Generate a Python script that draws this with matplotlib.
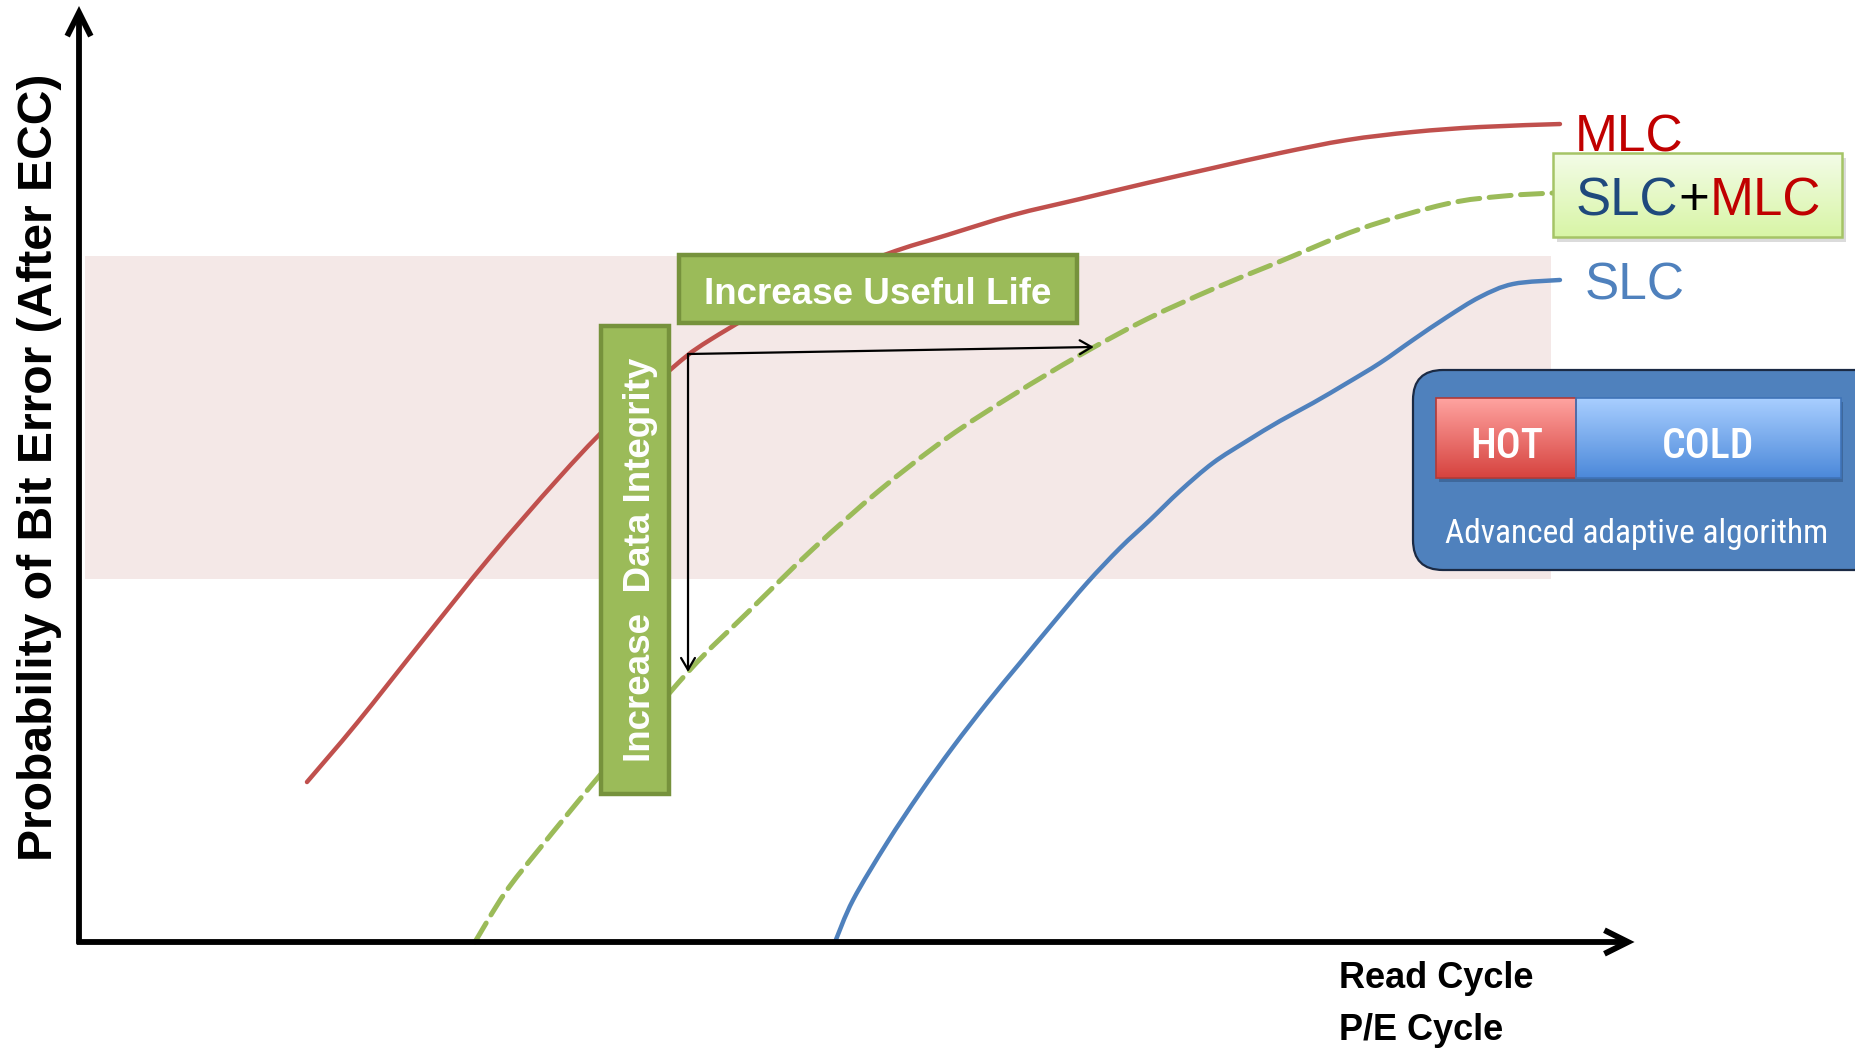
import numpy as np
import matplotlib
matplotlib.use("Agg")
import matplotlib.pyplot as plt
import matplotlib.colors as mcolors
from matplotlib import font_manager as fm
from matplotlib.patches import Rectangle, FancyBboxPatch, PathPatch
from matplotlib.path import Path

# ---------------------------------------------------------------------------
# Data: probability of bit error (after ECC) vs. read / P/E cycles, in
# arbitrary units (x: 0-100 cycles, y: 0-100 error probability)
# ---------------------------------------------------------------------------
mlc_cycles = [14.67, 17.89, 22.14, 26.45, 30.76, 33.98, 38.03, 40.60, 46.40,
              51.99, 55.86, 60.10, 64.41, 68.73, 72.97, 77.28, 81.60, 85.84,
              90.15, 95.30]
mlc_error = [17.09, 23.40, 32.26, 41.13, 49.36, 55.02, 61.11, 64.32, 69.76,
             73.50, 75.53, 77.67, 79.38, 81.09, 82.69, 84.29, 85.68, 86.54,
             87.07, 87.39]

hybrid_cycles = [25.48, 27.41, 29.67, 33.53, 39.19, 42.99, 47.23, 51.54, 55.86,
                 60.10, 64.41, 68.73, 72.97, 76.90, 82.43, 87.97, 91.70, 94.85]
hybrid_error = [0.0, 5.24, 10.04, 17.84, 28.85, 35.15, 41.99, 48.29, 53.85,
                58.44, 62.71, 66.56, 69.76, 72.44, 76.18, 78.85, 79.70, 80.02]

slc_cycles = [48.65, 49.81, 51.99, 54.12, 56.24, 58.43, 60.55, 62.68, 64.86,
              66.99, 68.92, 70.85, 72.97, 75.16, 77.28, 79.41, 81.60, 83.72,
              85.84, 88.03, 90.15, 92.28, 95.30]
slc_error = [0.0, 4.49, 10.58, 15.92, 20.83, 25.53, 29.81, 34.08, 38.35,
             42.09, 45.09, 48.18, 51.18, 53.53, 55.66, 57.59, 59.72, 61.86,
             64.32, 66.77, 68.91, 70.30, 70.73]

# acceptable error window
band_low, band_high = 38.78, 73.29
band_start, band_end = 0.39, 94.72

# improvement arrows (cycles, error)
gain_origin = (39.19, 62.82)
life_gain_end = (65.30, 63.57)
integrity_gain_end = (39.19, 28.85)

y_label = "Probability of Bit Error (After ECC)"
x_labels = ["Read Cycle", "P/E Cycle"]

# ---------------------------------------------------------------------------
W, H = 1855, 1051
fig = plt.figure(figsize=(W / 100, H / 100), dpi=100)
fig.patch.set_facecolor("white")

# data axes: origin at canvas pixel (79, 942); 15.54 px per x unit, 9.36 px per y unit
ox, oy, sx, sy = 79, 942, 15.54, 9.36
ax = fig.add_axes([0, 0, 1, 1])
ax.set_xlim(-ox / sx, (W - ox) / sx)
ax.set_ylim((oy - H) / sy, oy / sy)
ax.axis("off")

RED, GREEN, BLUE = "#C0504D", "#9BBB59", "#4F81BD"


def smooth_path(xs, ys):
    """Cubic Bezier path through the points (Catmull-Rom tangents)."""
    p = np.column_stack([xs, ys]).astype(float)
    ext = np.vstack([p[0], p, p[-1]])
    verts = [p[0]]
    codes = [Path.MOVETO]
    for i in range(len(p) - 1):
        a, b, c, d = ext[i], ext[i + 1], ext[i + 2], ext[i + 3]
        verts += [b + (c - a) / 6.0, c - (d - b) / 6.0, c]
        codes += [Path.CURVE4] * 3
    return Path(verts, codes)


def draw_curve(xs, ys, color, **kw):
    ax.add_patch(PathPatch(smooth_path(xs, ys), facecolor="none",
                           edgecolor=color, capstyle="round",
                           joinstyle="round", zorder=3, **kw))


ax.add_patch(Rectangle((band_start, band_low), band_end - band_start,
                       band_high - band_low, facecolor="#F4E8E7",
                       edgecolor="none", zorder=0))

draw_curve(mlc_cycles, mlc_error, RED, lw=3.2)
draw_curve(hybrid_cycles, hybrid_error, GREEN, lw=3.6,
           linestyle=(0, (4.4, 1.9)))
draw_curve(slc_cycles, slc_error, BLUE, lw=3.2)

# coordinate axes drawn as arrows
axis_arrow = dict(arrowstyle="->,head_length=17,head_width=8.5", lw=4.2,
                  color="black", shrinkA=0, shrinkB=0, mutation_scale=1,
                  joinstyle="miter", capstyle="butt")
ax.annotate("", xy=(100.1, 0), xytext=(-0.15, 0), arrowprops=axis_arrow, zorder=6)
ax.annotate("", xy=(0, 100), xytext=(0, -0.2), arrowprops=axis_arrow, zorder=6)

# improvement arrows: from the MLC curve across / down to the hybrid curve
thin_arrow = dict(arrowstyle="->,head_length=8.5,head_width=5", lw=1.6,
                  color="black", shrinkA=0, shrinkB=0, mutation_scale=1)
ax.annotate("", xy=life_gain_end, xytext=gain_origin, arrowprops=thin_arrow,
            zorder=7)
ax.annotate("", xy=integrity_gain_end, xytext=gain_origin,
            arrowprops=thin_arrow, zorder=7)

# ---------------------------------------------------------------------------
# Decorations, laid out in canvas pixels
# ---------------------------------------------------------------------------
deco = fig.add_axes([0, 0, 1, 1])
deco.axis("off")
deco.patch.set_alpha(0)

available = {f.name for f in fm.fontManager.ttflist}
SANS = "Liberation Sans" if "Liberation Sans" in available else "DejaVu Sans"
narrow = next((n for n in ["Liberation Sans Narrow", "Arial Narrow",
                           "Roboto Condensed", "Open Sans Condensed"]
               if n in available), None)
NARROW = narrow if narrow else SANS
nscale = 1.0 if narrow else 0.82


def gradient_box(x0, y0, x1, y1, top, bottom, z):
    t = np.linspace(0, 1, 64)[:, None]
    c0 = np.array(mcolors.to_rgb(top))
    c1 = np.array(mcolors.to_rgb(bottom))
    img = (c0 * (1 - t) + c1 * t)[:, None, :]
    deco.imshow(img, extent=(x0, x1, y1, y0), origin="upper", aspect="auto",
                interpolation="bilinear", zorder=z)


# axis titles
deco.text(52, 467, y_label, rotation=90, rotation_mode="anchor", ha="center",
          va="baseline", fontsize=34.6, fontweight="bold", family=SANS, zorder=10)
deco.text(1339, 988, x_labels[0], ha="left", va="baseline", fontsize=26,
          fontweight="bold", family=SANS, zorder=10)
deco.text(1339, 1040, x_labels[1], ha="left", va="baseline", fontsize=26,
          fontweight="bold", family=SANS, zorder=10)

# "Increase Useful Life" label
deco.add_patch(Rectangle((679, 255), 398, 68, facecolor=GREEN,
                         edgecolor="#76923C", lw=3.2, zorder=5))
deco.text(878, 304, "Increase Useful Life", ha="center", va="baseline",
          fontsize=26.5, fontweight="bold", color="white", family=SANS, zorder=6)

# "Increase Data Integrity" label
deco.add_patch(Rectangle((601, 326), 68, 468, facecolor=GREEN,
                         edgecolor="#76923C", lw=3.2, zorder=5))
deco.text(650, 560, "Increase  Data Integrity", rotation=90,
          rotation_mode="anchor", ha="center", va="baseline", fontsize=26.5,
          fontweight="bold", color="white", family=SANS, zorder=6)

# curve end labels
deco.text(1575, 152, "MLC", ha="left", va="baseline", fontsize=37,
          color="#C00000", family=SANS, zorder=10)
deco.text(1585, 300, "SLC", ha="left", va="baseline", fontsize=37,
          color=BLUE, family=SANS, zorder=10)

deco.add_patch(Rectangle((1557, 158), 289, 84, facecolor="#9A9A9A",
                         edgecolor="none", alpha=0.35, zorder=7))
gradient_box(1553, 153, 1842, 237, "#F3FCE7", "#D8F5A6", 8)
deco.add_patch(Rectangle((1553, 153), 289, 84, facecolor="none",
                         edgecolor="#A5C466", lw=1.8, zorder=9))
t1 = deco.text(1576, 215, "SLC", ha="left", va="baseline", fontsize=38,
               color="#1F497D", family=SANS, zorder=10)
t2 = deco.annotate("+", xy=(1, 0), xycoords=t1, ha="left", va="bottom",
                   fontsize=38, color="black", family=SANS, zorder=10)
deco.annotate("MLC", xy=(1, 0), xycoords=t2, ha="left", va="bottom",
              fontsize=38, color="#C00000", family=SANS, zorder=10)

# hot / cold data placement panel
deco.add_patch(FancyBboxPatch((1413, 370), 480, 200,
                              boxstyle="round,pad=0,rounding_size=30",
                              facecolor="#4F81BD", edgecolor="#1B2A44", lw=1.6,
                              zorder=7))
deco.add_patch(Rectangle((1439, 402), 404, 80, facecolor="#2B4A75",
                         edgecolor="none", alpha=0.45, zorder=8))
gradient_box(1436, 398, 1576, 478, "#FFA3A0", "#D6433F", 9)
gradient_box(1576, 398, 1841, 478, "#A8CEFF", "#4C89DA", 9)
deco.add_patch(Rectangle((1436, 398), 140, 80, facecolor="none",
                         edgecolor="#B23A37", lw=1.2, zorder=9.5))
deco.add_patch(Rectangle((1576, 398), 265, 80, facecolor="none",
                         edgecolor="#3F73B8", lw=1.2, zorder=9.5))
deco.text(1507, 458, "HOT", ha="center", va="baseline", fontsize=30 * nscale,
          color="white", family=NARROW, fontweight="medium", zorder=10)
deco.text(1708, 458, "COLD", ha="center", va="baseline", fontsize=30 * nscale,
          color="white", family=NARROW, fontweight="medium", zorder=10)
deco.text(1637, 543, "Advanced adaptive algorithm", ha="center", va="baseline",
          fontsize=24 * nscale, color="white", family=NARROW, zorder=10)

deco.set_xlim(0, W)
deco.set_ylim(H, 0)

fig.savefig("out.png", dpi=100, facecolor="white")
